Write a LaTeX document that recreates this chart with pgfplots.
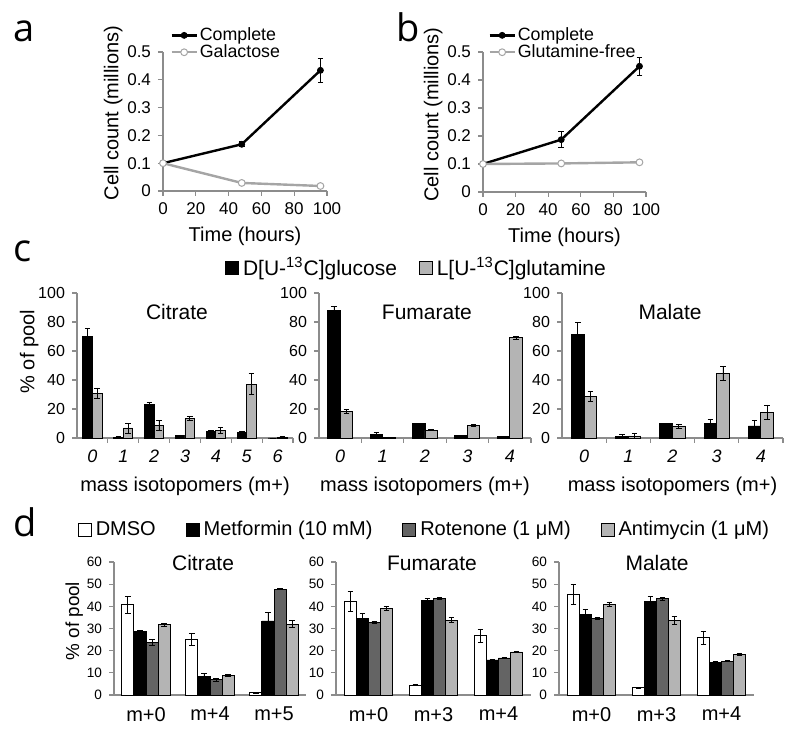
\documentclass[border=0pt]{standalone}
\usepackage{fontspec}
\setmainfont{Liberation Sans}
\newfontfamily\letterfont{Open Sans}
\usepackage{pgfplots}
\usepackage{pgfplotstable}
\pgfplotsset{compat=1.18}
\definecolor{axgray}{RGB}{140,140,140}
\definecolor{galgray}{RGB}{165,165,165}
\definecolor{barlight}{RGB}{180,180,180}
\definecolor{bardark}{RGB}{100,100,100}
\newcommand\fsz[1]{\fontsize{#1}{#1}\selectfont}

\pgfplotsset{
  base/.style={scale only axis, anchor=south west, axis lines=left,
    axis line style={-, draw=axgray, line width=0.7pt},
    tick align=outside, tick style={draw=axgray, line width=0.6pt},
    major tick length=2.5pt,
    enlargelimits=false, clip=false,
    /pgf/number format/assume math mode=true},
  errb/.style={error bars/y dir=both, error bars/y explicit,
    error bars/error bar style={black, line width=0.4pt},
    error bars/error mark options={rotate=90, mark size=1.4pt, black, line width=0.4pt}},
  sqlegend/.style={legend image code/.code={\draw[##1, draw=black, line width=0.5pt] (0pt,-3.2pt) rectangle (6.4pt,3.2pt);}},
  lnlegend/.style={legend image code/.code={\draw[mark repeat=2, mark phase=2, ##1] plot coordinates {(0pt,0pt) (6.25pt,0pt) (12.5pt,0pt)};}},
}

% ---------- panel a / b data ----------
\pgfplotstableread{
x y e
0 0.100 0
48 0.168 0.009
96 0.434 0.044
}\aComplete
\pgfplotstableread{
x y
0 0.100
48 0.029
96 0.018
}\aGal
\pgfplotstableread{
x y e
0 0.100 0
48 0.187 0.029
96 0.449 0.032
}\bComplete
\pgfplotstableread{
x y e
0 0.100 0
48 0.102 0.002
96 0.106 0.005
}\bGln

% ---------- panel c data (black = glucose, gray = glutamine) ----------
\pgfplotstableread{
x b be g ge
0 70.3 5.5 31.0 3.5
1 0.5 0.7 6.9 3.4
2 23.4 1.4 8.7 3.7
3 1.8 0.3 13.3 1.4
4 4.4 0.8 5.3 1.8
5 4.0 0.5 37.2 7.1
6 0.0 0.0 0.5 0.6
}\cCit
\pgfplotstableread{
x b be g ge
0 88.0 2.8 18.3 1.4
1 2.5 1.5 0.5 0.2
2 9.7 0.5 5.3 0.3
3 1.6 0.2 8.8 0.8
4 1.0 0.1 69.3 1.0
}\cFum
\pgfplotstableread{
x b be g ge
0 71.2 8.3 28.6 3.7
1 0.9 1.3 1.4 2.0
2 9.7 0.3 8.3 1.4
3 9.9 3.2 44.5 5.0
4 8.3 3.9 17.8 5.0
}\cMal

% ---------- panel d data (a=DMSO, b=Metformin, c=Rotenone, d=Antimycin) ----------
\pgfplotstableread{
x a ae b be c ce d de
0 40.7 3.8 28.6 0.5 23.8 1.3 31.7 0.6
1 24.9 2.7 8.3 1.5 6.8 0.5 9.0 0.4
2 1.1 0.2 33.4 3.7 47.8 0.3 32.0 1.5
}\dCit
\pgfplotstableread{
x a ae b be c ce d de
0 42.2 4.5 34.7 2.0 32.9 0.5 39.0 0.8
1 4.5 0.3 42.5 1.2 43.6 0.5 33.8 1.2
2 26.8 3.0 15.8 0.3 16.7 0.3 19.4 0.2
}\dFum
\pgfplotstableread{
x a ae b be c ce d de
0 45.5 4.5 36.3 2.3 34.5 0.5 41.0 1.0
1 3.2 0.3 42.3 2.0 43.5 0.7 33.7 1.8
2 25.8 2.8 14.7 0.3 15.3 0.2 18.3 0.3
}\dMal

\begin{document}
\begin{tikzpicture}
\useasboundingbox (0,0) rectangle (400pt,-366pt);

% panel letters
\node[anchor=base west, inner sep=0pt, font=\letterfont\fsz{19}] at (6.5pt,-21pt) {a};
\node[anchor=base west, inner sep=0pt, font=\letterfont\fsz{19}] at (198pt,-21pt) {b};
\node[anchor=base west, inner sep=0pt, font=\letterfont\fsz{19}] at (6.5pt,-131pt) {c};
\node[anchor=base west, inner sep=0pt, font=\letterfont\fsz{19}] at (6.5pt,-268.5pt) {d};

% ================= panel a =================
\begin{axis}[base, at={(81.5pt,-95.5pt)}, width=82pt, height=69.5pt,
  xmin=0, xmax=100, ymin=0, ymax=0.5,
  xtick={0,20,40,60,80,100},
  ytick={0,0.1,0.2,0.3,0.4,0.5}, yticklabels={0,0.1,0.2,0.3,0.4,0.5},
  tick label style={font=\fsz{8.5}},
  xlabel={Time (hours)}, ylabel={Cell count (millions)},
  label style={font=\fsz{10}},
  ylabel style={at={(ticklabel cs:0.56)}}, ylabel shift=-4.5pt, xlabel shift=-1pt,
  legend style={at={(0.043,1.194)}, anchor=north west, draw=none, fill=none,
    font=\fsz{8.9}, inner sep=0pt, row sep=-1.5pt, nodes={inner sep=1pt}},
  legend cell align=left]
\addplot[black, line width=1.2pt, mark=*, mark size=1.5pt, mark options={line width=0.4pt}, lnlegend, errb]
  table[x=x, y=y, y error=e] {\aComplete};
\addlegendentry{Complete}
\addplot[galgray, line width=1.2pt, mark=*, mark size=1.7pt, mark options={fill=white, line width=0.5pt}, lnlegend]
  table[x=x, y=y] {\aGal};
\addlegendentry{Galactose}
\end{axis}

% ================= panel b =================
\begin{axis}[base, at={(241.5pt,-96pt)}, width=81.5pt, height=70pt,
  xmin=0, xmax=100, ymin=0, ymax=0.5,
  xtick={0,20,40,60,80,100},
  ytick={0,0.1,0.2,0.3,0.4,0.5}, yticklabels={0,0.1,0.2,0.3,0.4,0.5},
  tick label style={font=\fsz{8.5}},
  xlabel={Time (hours)}, ylabel={Cell count (millions)},
  label style={font=\fsz{10}},
  ylabel style={at={(ticklabel cs:0.553)}}, ylabel shift=-4.5pt, xlabel shift=-1pt,
  legend style={at={(0.031,1.193)}, anchor=north west, draw=none, fill=none,
    font=\fsz{8.9}, inner sep=0pt, row sep=-1.5pt, nodes={inner sep=1pt}},
  legend cell align=left]
\addplot[black, line width=1.2pt, mark=*, mark size=1.5pt, mark options={line width=0.4pt}, lnlegend, errb]
  table[x=x, y=y, y error=e] {\bComplete};
\addlegendentry{Complete}
\addplot[galgray, line width=1.2pt, mark=*, mark size=1.7pt, mark options={fill=white, line width=0.5pt}, lnlegend, errb, error bars/error bar style={galgray, line width=0.4pt}, error bars/error mark options={rotate=90, mark size=1.4pt, galgray, line width=0.4pt}]
  table[x=x, y=y, y error=e] {\bGln};
\addlegendentry{Glutamine-free}
\end{axis}

% ================= panel c : Citrate =================
\begin{axis}[base, at={(38.5pt,-219pt)}, width=108pt, height=72.5pt,
  xmin=-0.5, xmax=6.5, ymin=0, ymax=100, ytick={0,20,40,60,80,100},
  xtick={0.5,1.5,2.5,3.5,4.5,5.5,6.5}, xticklabels={0,1,2,3,4,5,6},
  xticklabel style={font=\fsz{9}\itshape, xshift=-7.7pt},
  yticklabel style={font=\fsz{8}},
  ybar=0pt, bar width=0.31,
  xlabel={mass isotopomers (m+)}, ylabel={\% of pool},
  label style={font=\fsz{10}},
  ylabel style={at={(ticklabel cs:0.595)}}, ylabel shift=-7pt]
\addplot[fill=black, draw=black, line width=0.45pt, errb] table[x=x, y=b, y error=be] {\cCit};
\addplot[fill=barlight, draw=black, line width=0.45pt, errb] table[x=x, y=g, y error=ge] {\cCit};
\node[font=\fsz{10.5}] at (axis description cs:0.463,0.869) {Citrate};
\end{axis}

% ================= panel c : Fumarate =================
\begin{axis}[base, at={(159.5pt,-219pt)}, width=106pt, height=72.5pt,
  xmin=-0.5, xmax=4.5, ymin=0, ymax=100, ytick={0,20,40,60,80,100},
  xtick={0.5,1.5,2.5,3.5,4.5}, xticklabels={0,1,2,3,4},
  xticklabel style={font=\fsz{9}\itshape, xshift=-10.6pt},
  yticklabel style={font=\fsz{8}},
  ybar=0pt, bar width=0.295,
  xlabel={mass isotopomers (m+)},
  label style={font=\fsz{10}},
  legend columns=2,
  legend style={at={(0.465,1.172)}, anchor=center, draw=none, fill=none,
    font=\fsz{10.5}, /tikz/every even column/.append style={column sep=9pt}}]
\addplot[fill=black, draw=black, line width=0.45pt, errb, sqlegend] table[x=x, y=b, y error=be] {\cFum};
\addlegendentry{D[U-\textsuperscript{13}C]glucose}
\addplot[fill=barlight, draw=black, line width=0.45pt, errb, sqlegend] table[x=x, y=g, y error=ge] {\cFum};
\addlegendentry{L[U-\textsuperscript{13}C]glutamine}
\node[font=\fsz{10.5}] at (axis description cs:0.509,0.869) {Fumarate};
\end{axis}

% ================= panel c : Malate =================
\begin{axis}[base, at={(281pt,-219pt)}, width=110.5pt, height=72.5pt,
  xmin=-0.5, xmax=4.5, ymin=0, ymax=100, ytick={0,20,40,60,80,100},
  xtick={0.5,1.5,2.5,3.5,4.5}, xticklabels={0,1,2,3,4},
  xticklabel style={font=\fsz{9}\itshape, xshift=-11.05pt},
  yticklabel style={font=\fsz{8}},
  ybar=0pt, bar width=0.285,
  xlabel={mass isotopomers (m+)},
  label style={font=\fsz{10}}]
\addplot[fill=black, draw=black, line width=0.45pt, errb] table[x=x, y=b, y error=be] {\cMal};
\addplot[fill=barlight, draw=black, line width=0.45pt, errb] table[x=x, y=g, y error=ge] {\cMal};
\node[font=\fsz{10.5}] at (axis description cs:0.489,0.869) {Malate};
\end{axis}

% ================= panel d : Citrate =================
\begin{axis}[base, at={(57pt,-347.5pt)}, width=96pt, height=66.5pt,
  xmin=-0.5, xmax=2.5, ymin=0, ymax=60, ytick={0,10,20,30,40,50,60},
  xtick={0,1,2}, xticklabels={m+0,m+4,m+5}, xtick style={draw=none},
  xticklabel style={font=\fsz{10}},
  yticklabel style={font=\fsz{6.8}},
  ybar=0pt, bar width=0.19,
  ylabel={\% of pool}, ylabel style={font=\fsz{9.4}, at={(ticklabel cs:0.556)}}, ylabel shift=-5pt]
\addplot[fill=white, draw=black, line width=0.45pt, errb] table[x=x, y=a, y error=ae] {\dCit};
\addplot[fill=black, draw=black, line width=0.45pt, errb] table[x=x, y=b, y error=be] {\dCit};
\addplot[fill=bardark, draw=black, line width=0.45pt, errb] table[x=x, y=c, y error=ce] {\dCit};
\addplot[fill=barlight, draw=black, line width=0.45pt, errb] table[x=x, y=d, y error=de] {\dCit};
\node[font=\fsz{10.5}] at (axis description cs:0.464,0.992) {Citrate};
\end{axis}

% ================= panel d : Fumarate =================
\begin{axis}[base, at={(168pt,-347.5pt)}, width=97.5pt, height=66.5pt,
  xmin=-0.5, xmax=2.5, ymin=0, ymax=60, ytick={0,10,20,30,40,50,60},
  xtick={0,1,2}, xticklabels={m+0,m+3,m+4}, xtick style={draw=none},
  xticklabel style={font=\fsz{10}},
  yticklabel style={font=\fsz{6.8}},
  ybar=0pt, bar width=0.185,
  legend columns=4,
  legend style={at={(0.459,1.241)}, anchor=center, draw=none, fill=none,
    font=\fsz{10}, /tikz/every even column/.append style={column sep=13pt}}]
\addplot[fill=white, draw=black, line width=0.45pt, errb, sqlegend] table[x=x, y=a, y error=ae] {\dFum};
\addlegendentry{DMSO}
\addplot[fill=black, draw=black, line width=0.45pt, errb, sqlegend] table[x=x, y=b, y error=be] {\dFum};
\addlegendentry{Metformin (10 mM)}
\addplot[fill=bardark, draw=black, line width=0.45pt, errb, sqlegend] table[x=x, y=c, y error=ce] {\dFum};
\addlegendentry{Rotenone (1 μM)}
\addplot[fill=barlight, draw=black, line width=0.45pt, errb, sqlegend] table[x=x, y=d, y error=de] {\dFum};
\addlegendentry{Antimycin (1 μM)}
\node[font=\fsz{10.5}] at (axis description cs:0.492,0.992) {Fumarate};
\end{axis}

% ================= panel d : Malate =================
\begin{axis}[base, at={(279.5pt,-347.5pt)}, width=97.5pt, height=66.5pt,
  xmin=-0.5, xmax=2.5, ymin=0, ymax=60, ytick={0,10,20,30,40,50,60},
  xtick={0,1,2}, xticklabels={m+0,m+3,m+4}, xtick style={draw=none},
  xticklabel style={font=\fsz{10}},
  yticklabel style={font=\fsz{6.8}},
  ybar=0pt, bar width=0.185]
\addplot[fill=white, draw=black, line width=0.45pt, errb] table[x=x, y=a, y error=ae] {\dMal};
\addplot[fill=black, draw=black, line width=0.45pt, errb] table[x=x, y=b, y error=be] {\dMal};
\addplot[fill=bardark, draw=black, line width=0.45pt, errb] table[x=x, y=c, y error=ce] {\dMal};
\addplot[fill=barlight, draw=black, line width=0.45pt, errb] table[x=x, y=d, y error=de] {\dMal};
\node[font=\fsz{10.5}] at (axis description cs:0.503,0.992) {Malate};
\end{axis}

\end{tikzpicture}
\end{document}
